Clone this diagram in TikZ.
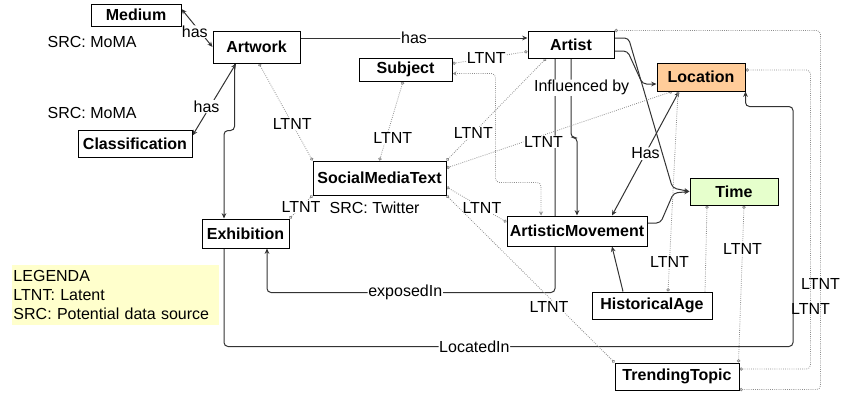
\documentclass[tikz,border=0pt]{standalone}
\usepackage{fontspec}
\setmainfont{Liberation Sans}
\usetikzlibrary{arrows.meta,backgrounds}

\newcommand{\diagfont}{\fontsize{12}{14.25}\selectfont}
\definecolor{locfill}{HTML}{FFCC99}
\definecolor{timefill}{HTML}{E6FFCC}
\definecolor{legendfill}{HTML}{FFFFCC}

\tikzset{
	entity/.style={draw=black, fill=white, font=\diagfont\bfseries, inner sep=0pt, line width=0.75pt},
	legend/.style={fill=legendfill, align=left, text width=153pt, inner sep=1pt, minimum height=45pt},
	rel/.style={draw=black!80, line width=0.75pt, rounded corners=3pt},
	tip/.style={arrows={-Stealth[length=4pt,width=3.5pt]}},
	bitip/.style={arrows={Stealth[length=4pt,width=3.5pt]-Stealth[length=4pt,width=3.5pt]}},
	ltnt/.style={draw=black!45, densely dotted, line width=0.6pt, rounded corners=3pt,
		arrows={Circle[open,length=2.5pt]-Circle[open,length=2.5pt]}},
	lbl/.style={fill=white, inner sep=0.5pt},
}

\begin{document}
\begin{tikzpicture}[x=0.75pt, y=-0.75pt, font=\diagfont]
	\useasboundingbox (0,0) rectangle (842,394);

	% entities
	\node[entity, minimum width=67.5pt, minimum height=16.5pt]   (medium)         at (136,15)      {Medium};
	\node[entity, minimum width=65.25pt, minimum height=24pt]    (artwork)        at (256.5,47)    {Artwork};
	\node[entity, minimum width=85.5pt, minimum height=20.25pt]  (classification) at (135,143.5)   {Classification};
	\node[entity, minimum width=69.75pt, minimum height=17.25pt] (subject)        at (405.5,69.5)  {Subject};
	\node[entity, minimum width=64.5pt, minimum height=20.25pt]  (artist)         at (571,44.5)    {Artist};
	\node[entity, fill=locfill, minimum width=66pt, minimum height=21pt] (location) at (701,77)    {Location};
	\node[entity, minimum width=99.75pt, minimum height=25.5pt]  (socialtext)     at (379.5,178)   {SocialMediaText};
	\node[entity, minimum width=65.25pt, minimum height=21.75pt] (exhibition)     at (245.5,233.5) {Exhibition};
	\node[entity, minimum width=105pt, minimum height=22.5pt]    (movement)       at (577,231)     {ArtisticMovement};
	\node[entity, fill=timefill, minimum width=66pt, minimum height=20.25pt] (time) at (734,191.5) {Time};
	\node[entity, minimum width=90pt, minimum height=20.25pt]    (histage)        at (652,305.5)   {HistoricalAge};
	\node[entity, minimum width=93pt, minimum height=20.25pt]    (trending)       at (677,376.5)   {TrendingTopic};

	% sources and legend
	\node[anchor=west] (srcmedium) at (43,42)  {SRC: MoMA};
	\node[anchor=west] (srcclass)  at (43,113) {SRC: MoMA};
	\node[anchor=west] (srcsocial) at (325,208) {SRC: Twitter};
	\node[legend] (legend) at (115.5,295) {LEGENDA\\LTNT: Latent\\SRC: Potential data source};

	\begin{scope}[on background layer]
		% relations
		\path ([shift={(0,-6)}]medium.east) edge[rel,bitip] node[lbl,pos=0.6,xshift=-4pt]{has} (artwork.west)
			([shift={(0,6)}]classification.north east) edge[rel,bitip] node[lbl,pos=0.4,xshift=-2.5pt]{has} ([shift={(-20.5,0)}]artwork.south)
			([shift={(0,-9)}]artwork.east) edge[rel,tip] node[lbl]{has} ([shift={(0,-6.5)}]artist.west)
			([shift={(35,0)}]movement.north) edge[rel,bitip] node[lbl]{Has} ([shift={(-22,0)}]location.south)
			([shift={(-29,0)}]histage.north) edge[rel,tip] ([shift={(35,0)}]movement.south);
		\draw[rel,tip] ([shift={(-22,0)}]artwork.south) -- ++(0,67) -| ([shift={(-21.5,0)}]exhibition.north);
		\draw[rel,tip] ([shift={(-16,0)}]artist.south) -- ++(0,234) -| node[lbl,pos=0.26]{exposedIn} ([shift={(21.5,0)}]exhibition.south);
		\draw[rel,tip] (artist.south) -- node[lbl,pos=0.37,xshift=8pt]{Influenced by} ++(0,79) -| (movement.north);
		\draw[rel,tip] ([shift={(0,6.5)}]artist.east) -- ++(13,0) -- ++(15,33) -- ([shift={(0,7)}]location.west);
		\draw[rel,tip] ([shift={(0,-6.5)}]artist.east) -- ++(14,0) -- ++(44,150) -- (time.west);
		\draw[rel,tip] ([shift={(0,-8)}]movement.east) -- ++(13,0) -- ++(13,-30) -- (time.west);
		\draw[rel,tip] ([shift={(-21.5,0)}]exhibition.south) -- ++(0,98) -| node[lbl,pos=0.22]{LocatedIn} ++(569,-240) -| (location.south east);

		% latent relations
		\path ([shift={(2.5,0)}]artwork.south) edge[ltnt] node[lbl,pos=0.62]{LTNT} (socialtext.north west)
			([shift={(-2.5,0)}]subject.south) edge[ltnt] node[lbl,pos=0.72,xshift=5pt]{LTNT} (socialtext.north)
			([shift={(0,7)}]artist.west) edge[ltnt] node[lbl,pos=0.55]{LTNT} ([shift={(0,-6)}]subject.east)
			([shift={(-25,0)}]artist.south) edge[ltnt] node[lbl,pos=0.73]{LTNT} (socialtext.north east)
			([shift={(-29,0)}]location.south) edge[ltnt] node[lbl,pos=0.57,yshift=-5pt]{LTNT} ([shift={(0,-10)}]socialtext.east)
			([shift={(0,9)}]socialtext.east) edge[ltnt] node[lbl,pos=0.59]{LTNT} ([shift={(0,-9)}]movement.west)
			(socialtext.south east) edge[ltnt] node[lbl,pos=0.67,xshift=-7.5pt]{LTNT} (trending.north west)
			(exhibition.north east) edge[ltnt] node[lbl]{LTNT} (socialtext.south west)
			([shift={(-23,0)}]location.south) edge[ltnt] node[lbl,pos=0.85]{LTNT} ([shift={(16,0)}]histage.north)
			([shift={(10,0)}]time.south) edge[ltnt] node[lbl,pos=0.28]{LTNT} ([shift={(-1,0)}]trending.north east);
		\draw[ltnt, arrows={Stealth[length=3pt,width=3pt]-Stealth[length=3pt,width=3pt]}] ([shift={(0,4)}]subject.east) -| ++(43,109) -| ([shift={(-36,0)}]movement.north);
		\draw[ltnt, arrows={-Circle[open,length=2.5pt]}] ([shift={(53,0)}]histage.north) -- ([shift={(-27,0)}]time.south);
		\draw[ltnt] (artist.north east) -| node[pos=0.853]{LTNT} ([shift={(81,-1)}]trending.south east) -- ([shift={(0,-1)}]trending.south east);
		\draw[ltnt] ([shift={(0,-7)}]location.east) -| node[pos=0.9]{LTNT} ([shift={(71,-7.5)}]trending.east) -- ([shift={(0,-7.5)}]trending.east);
	\end{scope}
\end{tikzpicture}
\end{document}
